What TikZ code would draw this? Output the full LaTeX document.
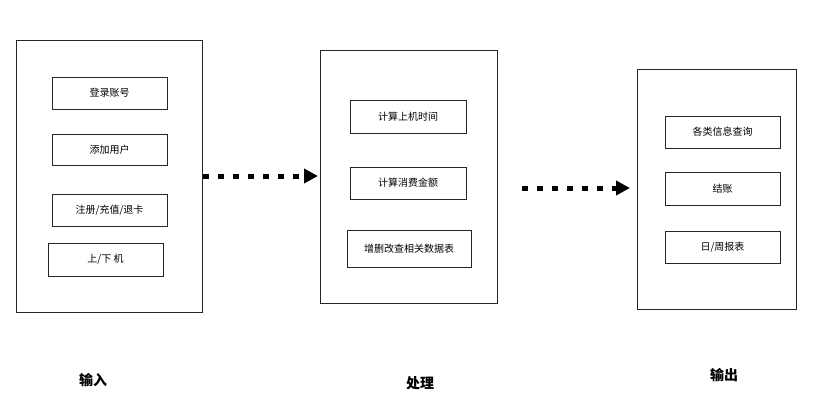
\documentclass[tikz,border=0pt]{standalone}
\usepackage{fontspec}
\setmainfont{Noto Sans CJK SC}
\usetikzlibrary{arrows.meta}
\begin{document}
\begin{tikzpicture}[x=1pt,y=-1pt,
  outer/.style={draw=black!85,line width=0.9pt},
  inner/.style={draw=black!85,line width=0.9pt,font=\fontsize{10}{12}\selectfont},
  lab/.style={font=\fontsize{14}{16}\selectfont\bfseries},
  dotarrow/.style={line width=5pt,dash pattern=on 6pt off 9pt,-{Triangle[length=14pt,width=14pt]}}]
\useasboundingbox (0,0) rectangle (821,412);
\draw[outer] (16,40) rectangle (202,312);
\node[inner,minimum width=115pt,minimum height=32pt] (a1) at (109.5,93) {登录账号};
\node[inner,minimum width=115pt,minimum height=31pt] (a2) at (109.5,149.5) {添加用户};
\node[inner,minimum width=115pt,minimum height=32pt] (a3) at (109.5,210) {注册/充值/退卡};
\node[inner,minimum width=115pt,minimum height=33pt] (a4) at (105.5,259.5) {上/下 机};
\draw[outer] (320,50) rectangle (497,303);
\node[inner,minimum width=116pt,minimum height=33pt] (b1) at (408,116.5) {计算上机时间};
\node[inner,minimum width=116pt,minimum height=32pt] (b2) at (408,183) {计算消费金额};
\node[inner,minimum width=124pt,minimum height=37pt] (b3) at (409,248.5) {增删改查相关数据表};
\draw[outer] (637,69) rectangle (796,309);
\node[inner,minimum width=115pt,minimum height=32pt] (c1) at (722.5,132) {各类信息查询};
\node[inner,minimum width=115pt,minimum height=33pt] (c2) at (722.5,188.5) {结账};
\node[inner,minimum width=115pt,minimum height=32pt] (c3) at (722.5,247) {日/周报表};
\coordinate (p1) at (203,176); \coordinate (q1) at (318,176);
\coordinate (p2) at (522,188); \coordinate (q2) at (630,188);
\draw[dotarrow] (p1) -- (q1);
\draw[dotarrow] (p2) -- (q2);
\node[lab] (l1) at (93,380) {输入};
\node[lab] (l2) at (420,383) {处理};
\node[lab] (l3) at (724,375) {输出};
\end{tikzpicture}
\end{document}
